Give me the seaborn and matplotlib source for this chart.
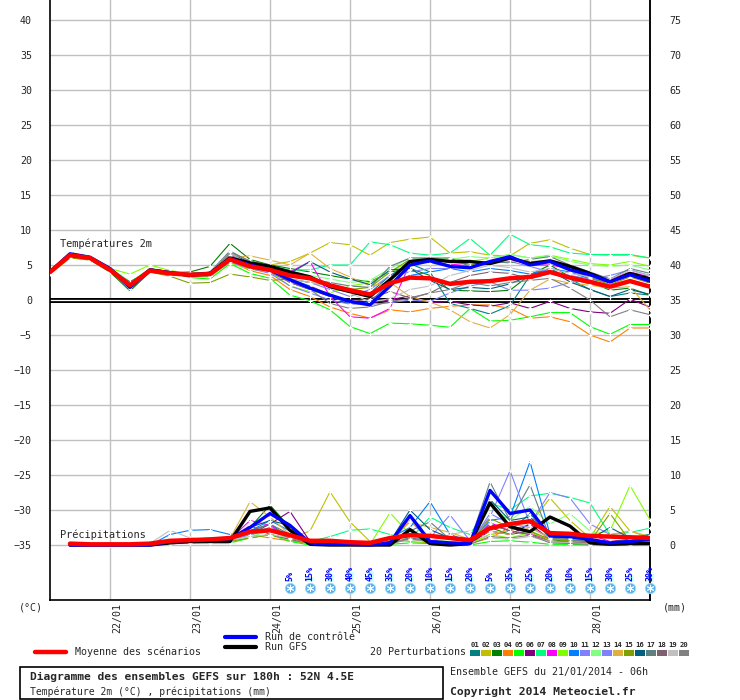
import numpy as np
import pandas as pd
import matplotlib
matplotlib.use('Agg')
import matplotlib.pyplot as plt
import matplotlib.transforms as mtransforms
from matplotlib.lines import Line2D
from matplotlib.patches import Rectangle
import seaborn as sns

# echeances (heures depuis le run du 21/01 06h)
hours = list(range(0, 181, 6))
precip_hours = hours[1:]

day_hours = [18, 42, 66, 90, 114, 138, 162]
day_labels = ['22/01', '23/01', '24/01', '25/01', '26/01', '27/01', '28/01']

# temperatures 2m (°C)
temp_mean = [4.0, 6.4, 6.0, 4.3, 2.1, 4.2, 3.8, 3.6, 3.7, 5.8, 4.8, 4.3, 3.5, 3.1, 2.1, 1.4,
             0.8, 2.4, 3.2, 3.1, 2.3, 2.6, 2.7, 3.1, 3.3, 4.0, 3.2, 2.6, 1.9, 2.7, 1.9]
temp_ctrl = [4.0, 6.6, 6.1, 4.5, 1.8, 4.3, 3.9, 3.6, 3.8, 5.9, 5.0, 4.3, 2.9, 1.7, 0.7, -0.2,
             -0.7, 2.0, 5.0, 5.6, 4.8, 4.6, 5.5, 6.2, 5.0, 5.5, 4.3, 3.6, 2.6, 3.6, 2.7]
temp_gfs = [4.0, 6.5, 6.0, 4.4, 2.0, 4.3, 3.9, 3.5, 3.8, 6.0, 5.3, 4.8, 4.0, 3.3, 1.9, 1.2,
            0.5, 2.9, 5.5, 5.8, 5.5, 5.5, 5.2, 6.0, 5.2, 5.6, 4.8, 3.8, 2.6, 3.8, 3.0]

t01 = [3.8, 6.3, 6.0, 4.5, 2.0, 4.2, 3.8, 3.5, 3.6, 6.0, 5.0, 4.6, 3.5, 3.0, 2.0, 1.5,
       1.0, 3.5, 5.2, 4.0, -0.5, -1.2, -2.0, -0.8, 3.5, 4.5, 3.0, 1.5, 0.5, 1.0, 0.7]
t02 = [4.2, 6.8, 6.2, 4.6, 2.4, 4.3, 3.9, 3.3, 3.3, 5.5, 5.5, 5.0, 5.5, 6.7, 8.2, 7.9,
       6.4, 8.2, 8.7, 9.0, 6.7, 6.9, 6.4, 6.3, 8.1, 8.6, 7.4, 6.5, 6.4, 6.4, 6.0]
t03 = [4.0, 6.2, 5.8, 4.0, 1.3, 4.0, 3.9, 4.0, 4.8, 8.1, 5.8, 5.0, 4.5, 4.0, 3.5, 3.0,
       2.6, 4.0, 4.5, 3.5, 1.4, 1.3, 1.2, 1.4, 3.6, 5.0, 3.3, 2.6, 1.4, 1.7, 0.7]
t04 = [3.9, 6.5, 6.2, 4.2, 2.2, 4.3, 3.8, 3.6, 3.5, 5.5, 4.2, 3.5, 1.5, 0.5, -1.0, -1.9,
       -2.6, -1.4, -1.7, -1.2, -0.9, -0.7, -0.7, -1.2, -2.6, -2.4, -3.1, -5.0, -6.0, -4.0, -4.0]
t05 = [4.1, 6.6, 6.1, 4.2, 2.5, 4.5, 4.0, 3.2, 3.0, 5.2, 3.8, 3.1, 0.7, -0.1, -1.4, -3.8,
       -4.8, -3.3, -3.4, -3.6, -3.9, -1.2, -3.0, -2.9, -2.4, -1.8, -1.8, -3.8, -4.9, -3.5, -3.5]
t06 = [4.0, 6.4, 6.0, 4.4, 1.8, 4.2, 3.7, 3.8, 3.9, 6.3, 5.2, 4.5, 2.5, 1.5, 0.5, -0.3,
       -0.4, 0.0, 0.6, -0.4, -0.2, -0.7, -0.9, -0.4, -1.2, -0.2, -1.2, -1.7, -1.9, 0.1, -1.0]
t07 = [4.2, 6.6, 6.3, 4.6, 2.6, 4.3, 3.7, 3.4, 3.4, 5.6, 5.0, 4.8, 4.3, 4.3, 5.0, 5.0,
       8.3, 7.9, 6.7, 6.4, 6.7, 8.8, 6.4, 9.4, 7.9, 7.6, 6.7, 6.5, 6.5, 6.5, 6.0]
t08 = [4.0, 6.5, 6.1, 4.3, 2.0, 4.1, 3.8, 3.6, 3.6, 5.5, 4.6, 4.2, 4.0, 5.5, 0.5, -2.4,
       -2.6, -1.2, 5.2, 5.6, 5.0, 5.3, 5.5, 5.8, 5.0, 5.0, 4.5, 3.8, 3.0, 4.0, 3.3]
t09 = [3.9, 6.0, 5.8, 4.5, 3.7, 5.0, 4.2, 3.8, 3.5, 5.3, 4.4, 4.0, 2.0, 1.2, 1.0, 2.0,
       2.5, 4.0, 5.5, 5.8, 6.0, 5.5, 6.0, 6.5, 6.0, 6.4, 5.8, 5.2, 5.0, 5.5, 4.8]
t10 = [4.1, 6.4, 6.0, 4.2, 2.2, 4.2, 3.8, 3.7, 3.8, 5.8, 4.9, 4.2, 3.0, 2.0, 0.5, -0.5,
       -0.3, 2.5, 3.5, 4.0, 4.5, 4.0, 4.5, 4.2, 3.7, 4.5, 4.0, 3.0, 2.5, 3.8, 2.8]
t11 = [3.9, 6.3, 5.9, 4.1, 2.0, 4.0, 3.6, 3.5, 3.5, 5.4, 4.5, 3.8, 2.0, 1.0, 0.0, -0.6,
       -0.6, -0.4, 0.0, -0.2, 1.0, 2.0, 2.6, 1.4, 1.4, 1.7, 2.5, 3.0, 3.5, 4.3, 3.5]
t12 = [4.0, 6.6, 6.2, 4.5, 2.4, 4.4, 4.0, 3.7, 3.9, 6.2, 5.2, 4.7, 4.0, 3.5, 3.0, 2.5,
       2.8, 4.5, 6.0, 6.0, 5.8, 6.2, 6.0, 6.5, 6.0, 6.3, 5.5, 5.0, 4.8, 5.0, 4.3]
t13 = [4.0, 6.4, 6.0, 4.3, 2.1, 4.1, 3.8, 3.6, 3.7, 5.9, 4.7, 4.1, 3.0, 2.5, 1.5, 0.5,
       1.5, 3.5, 4.0, 4.5, 4.5, 5.0, 5.2, 5.5, 4.8, 4.0, 3.5, 3.0, 2.8, 3.6, 3.2]
t14 = [4.1, 6.5, 6.1, 4.4, 2.3, 4.4, 4.1, 3.9, 3.9, 6.0, 6.3, 5.7, 5.0, 6.7, 4.5, 3.3,
       2.0, 2.5, 0.5, -0.3, -1.4, -3.1, -4.0, -2.1, 1.4, 3.0, 2.4, 2.1, 1.7, 1.9, -1.4]
t15 = [3.7, 6.0, 5.7, 4.0, 2.2, 4.0, 3.4, 2.4, 2.5, 3.7, 3.3, 2.8, 3.0, 2.5, 2.0, 1.5,
       1.8, 4.0, 5.8, 5.3, 4.8, 5.0, 5.4, 6.0, 5.5, 5.6, 4.3, 3.2, 2.2, 3.3, 2.4]
t16 = [4.0, 6.3, 5.9, 4.2, 1.9, 4.1, 3.7, 3.7, 3.8, 6.6, 5.4, 4.9, 3.8, 5.5, 4.0, 3.0,
       2.2, 4.3, 4.5, 2.8, 1.5, 1.8, 1.6, 2.3, 3.5, 4.2, 2.6, 1.5, 0.5, 1.5, 0.8]
t17 = [4.0, 6.4, 6.0, 4.4, 1.6, 4.2, 3.8, 3.8, 4.0, 7.0, 5.5, 5.0, 3.5, 3.0, 2.5, 2.0,
       1.8, 4.8, 6.0, 6.0, 6.0, 4.8, 5.5, 5.3, 5.8, 6.2, 5.0, 4.0, 3.0, 4.5, 3.8]
t18 = [4.1, 6.5, 6.0, 4.3, 2.6, 4.2, 3.7, 3.6, 3.6, 6.5, 5.1, 4.0, 2.5, 2.0, 0.8, -0.3,
       0.2, 1.2, 0.3, 1.0, 2.5, 3.5, 4.0, 3.8, 3.0, 3.8, 3.0, 2.3, 1.8, 2.8, 2.0]
t19 = [4.0, 6.5, 6.1, 4.4, 2.2, 4.3, 3.9, 3.7, 3.8, 6.7, 5.0, 4.4, 3.0, 2.5, 2.0, 1.0,
       -0.3, 0.2, 1.5, 2.0, 3.5, 4.2, 5.0, 4.6, 4.0, 4.5, 3.8, 3.3, 3.0, 4.2, 3.5]
t20 = [4.0, 6.4, 6.0, 4.3, 2.0, 4.2, 3.8, 3.6, 3.7, 6.8, 5.6, 4.8, 2.5, 1.5, -0.5, -1.2,
       -1.0, -0.2, 0.2, 1.0, 1.5, 2.5, 2.0, 2.5, 2.8, 3.1, 1.7, 0.0, -2.4, -1.4, -2.1]

# precipitations sur 6h (mm)
prec_mean = [0.2, 0.1, 0.1, 0.1, 0.2, 0.6, 0.7, 0.8, 1.0, 1.9, 2.1, 1.4, 0.6, 0.6, 0.4,
             0.3, 1.0, 1.4, 1.3, 1.0, 0.7, 2.4, 3.0, 3.4, 1.7, 1.6, 1.3, 1.2, 1.1, 1.0]
prec_ctrl = [0.0, 0.0, 0.0, 0.0, 0.0, 0.5, 0.7, 0.8, 0.9, 2.5, 4.5, 2.8, 0.3, 0.1, 0.1,
             0.0, 0.3, 4.2, 0.5, 0.3, 0.2, 7.8, 4.5, 5.0, 1.3, 1.2, 0.8, 0.3, 0.5, 0.8]
prec_gfs = [0.0, 0.0, 0.0, 0.0, 0.0, 0.3, 0.5, 0.5, 0.5, 4.8, 5.3, 2.1, 0.1, 0.0, 0.0,
            0.0, 0.0, 2.2, 0.2, 0.0, 0.2, 6.0, 2.6, 1.9, 4.0, 2.7, 0.3, 0.1, 0.2, 0.2]

p01 = [0, 0, 0, 0, 0, 0.3, 0.5, 0.6, 0.8, 1.5, 3.0, 1.0, 0.2, 0.1, 0.1, 0.0, 0.5, 2.0,
       0.3, 0.2, 0.1, 3.0, 2.0, 4.5, 0.8, 1.0, 0.5, 0.3, 0.5, 0.9]
p02 = [0, 0, 0, 0, 0, 0.2, 0.3, 0.5, 0.6, 1.0, 1.5, 1.0, 2.0, 7.6, 3.3, 0.5, 0.8, 0.5,
       0.3, 0.2, 0.3, 1.5, 2.0, 3.0, 6.7, 3.5, 1.0, 5.5, 2.0, 1.0]
p03 = [0, 0, 0, 0, 0, 0.2, 0.4, 0.5, 0.9, 2.5, 5.7, 2.5, 0.3, 0.1, 0.0, 0.0, 0.5, 1.5,
       0.4, 0.2, 0.0, 2.5, 1.5, 2.0, 0.5, 0.8, 0.4, 0.3, 0.2, 0.3]
p04 = [0, 0, 0, 0, 0, 0.4, 0.6, 0.6, 1.2, 1.5, 1.0, 0.6, 0.2, 0.0, 0.0, 0.0, 0.3, 3.5,
       0.5, 0.2, 0.2, 1.0, 2.5, 1.8, 0.5, 0.5, 0.3, 0.1, 0.1, 0.2]
p05 = [0, 0, 0, 0, 0, 0.2, 0.3, 0.3, 0.3, 1.0, 1.5, 0.5, 0.0, 0.0, 0.0, 0.0, 0.1, 0.3,
       0.2, 0.1, 0.0, 0.5, 0.6, 0.4, 0.1, 0.1, 0.0, 0.0, 0.0, 0.1]
p06 = [0, 0, 0, 0, 0, 0.3, 0.6, 0.8, 0.8, 2.0, 3.0, 4.8, 0.5, 0.1, 0.0, 0.0, 0.4, 1.5,
       0.8, 0.3, 0.3, 2.0, 1.5, 3.0, 0.8, 1.0, 0.6, 0.5, 0.8, 0.6]
p07 = [0, 0, 0, 0, 0, 0.2, 0.3, 0.5, 0.8, 1.5, 2.5, 1.5, 0.5, 1.2, 2.1, 2.3, 1.5, 0.8,
       4.0, 2.5, 1.5, 6.0, 5.0, 7.0, 7.4, 6.8, 6.0, 1.5, 1.8, 2.4]
p08 = [0, 0, 0, 0, 0, 0.3, 0.5, 0.6, 0.8, 3.5, 2.8, 1.0, 0.3, 0.1, 0.0, 0.0, 0.2, 1.8,
       0.4, 0.3, 0.3, 3.2, 2.0, 1.5, 1.0, 1.2, 1.5, 0.5, 0.3, 0.5]
p09 = [0, 0, 0, 0, 0, 0.2, 0.4, 0.5, 0.8, 1.5, 2.0, 1.2, 0.8, 0.5, 0.3, 0.1, 4.6, 1.5,
       0.5, 0.3, 0.2, 1.5, 1.0, 1.8, 0.8, 0.8, 1.5, 2.0, 8.5, 3.6]
p10 = [0, 0, 0, 0, 0, 1.5, 2.1, 2.2, 1.5, 2.0, 3.5, 2.0, 0.3, 0.1, 0.1, 0.0, 1.0, 2.5,
       6.2, 1.5, 0.5, 3.5, 4.0, 11.9, 1.5, 0.8, 0.5, 0.3, 0.6, 1.0]
p11 = [0, 0, 0, 0, 0, 0.3, 0.4, 0.6, 0.8, 1.5, 2.0, 1.5, 0.4, 0.2, 0.1, 0.0, 0.5, 2.0,
       1.0, 4.3, 0.6, 4.0, 10.6, 3.0, 7.5, 6.7, 3.0, 1.5, 0.8, 0.9]
p12 = [0, 0, 0, 0, 0, 0.3, 0.5, 0.4, 0.6, 1.2, 2.0, 1.0, 0.3, 0.2, 0.1, 0.0, 0.6, 1.2,
       0.8, 0.5, 0.3, 5.5, 3.5, 5.5, 3.0, 4.5, 2.0, 1.0, 1.2, 1.5]
p13 = [0, 0, 0, 0, 0, 0.2, 0.3, 0.4, 0.6, 1.5, 2.5, 1.2, 0.2, 0.1, 0.1, 0.0, 0.3, 1.0,
       0.6, 0.3, 0.2, 4.5, 3.0, 2.5, 1.0, 0.8, 0.6, 0.4, 0.6, 0.8]
p14 = [0, 0, 0, 0, 0, 0.5, 0.6, 0.7, 0.9, 6.2, 4.0, 1.5, 0.3, 0.1, 0.0, 0.0, 0.5, 3.3,
       2.5, 1.8, 0.8, 2.0, 1.5, 2.5, 1.0, 0.8, 1.0, 1.5, 2.0, 1.2]
p15 = [0, 0, 0, 0, 0, 0.2, 0.3, 0.4, 0.5, 1.0, 1.5, 0.8, 0.2, 0.0, 0.0, 0.0, 0.2, 0.8,
       0.5, 0.3, 0.2, 3.8, 2.5, 2.0, 0.8, 0.6, 0.5, 4.5, 0.6, 0.8]
p16 = [0, 0, 0, 0, 0, 0.4, 0.6, 0.6, 0.9, 2.5, 3.5, 2.8, 0.3, 0.1, 0.0, 0.0, 0.5, 5.0,
       2.2, 1.0, 0.3, 6.5, 3.5, 4.0, 1.2, 1.0, 0.8, 2.5, 1.0, 1.5]
p17 = [0, 0, 0, 0, 0, 0.3, 0.5, 0.6, 0.8, 2.0, 3.0, 1.5, 0.3, 0.1, 0.0, 0.0, 0.4, 2.0,
       3.3, 0.8, 0.5, 9.0, 3.5, 8.6, 1.0, 0.8, 0.5, 0.4, 0.8, 1.5]
p18 = [0, 0, 0, 0, 0, 0.5, 0.8, 0.7, 0.8, 2.8, 1.5, 0.8, 0.3, 0.1, 0.0, 0.0, 0.2, 1.0,
       0.6, 0.3, 0.2, 3.0, 2.0, 1.5, 0.5, 0.4, 0.3, 0.2, 0.3, 0.4]
p19 = [0, 0, 0, 0, 0.2, 2.1, 1.0, 0.8, 0.7, 1.2, 1.5, 1.0, 0.2, 0.1, 0.0, 0.0, 0.3, 0.8,
       0.5, 1.5, 2.0, 1.0, 0.8, 1.2, 0.5, 0.3, 0.2, 0.1, 0.1, 0.2]
p20 = [0, 0, 0, 0, 0, 0.3, 0.4, 0.6, 0.7, 1.8, 2.0, 1.0, 0.2, 0.0, 0.0, 0.0, 0.2, 0.9,
       0.5, 0.3, 0.1, 1.2, 1.0, 1.4, 0.3, 0.2, 0.1, 0.1, 0.2, 0.3]

member_ids = ['01', '02', '03', '04', '05', '06', '07', '08', '09', '10',
              '11', '12', '13', '14', '15', '16', '17', '18', '19', '20']
member_colors = ['#008080', '#c0c000', '#008000', '#ff8000', '#00ff00', '#800080', '#00ff80',
                 '#ff00ff', '#80ff00', '#0080ff', '#8080ff', '#80ff80', '#8080ff', '#e0b040',
                 '#80a000', '#006080', '#608080', '#806070', '#c0c0c0', '#808080']

# probabilite de neige (%)
snow_hours = list(range(72, 181, 6))
snow_pct = [5, 15, 30, 40, 45, 35, 20, 10, 15, 20, 5, 35, 25, 20, 10, 15, 30, 25, 30]

PREC_BASE = -35  # 0 mm sur l'echelle des temperatures

temp_members = [t01, t02, t03, t04, t05, t06, t07, t08, t09, t10,
                t11, t12, t13, t14, t15, t16, t17, t18, t19, t20]
prec_members = [p01, p02, p03, p04, p05, p06, p07, p08, p09, p10,
                p11, p12, p13, p14, p15, p16, p17, p18, p19, p20]

rows_t = []
rows_p = []
for mid, tvals, pvals in zip(member_ids, temp_members, prec_members):
    for h, v in zip(hours, tvals):
        rows_t.append((mid, h, v))
    for h, v in zip(precip_hours, pvals):
        rows_p.append((mid, h, PREC_BASE + v))
df_t = pd.DataFrame(rows_t, columns=['member', 'hour', 'value'])
df_p = pd.DataFrame(rows_p, columns=['member', 'hour', 'value'])
palette = dict(zip(member_ids, member_colors))

sns.set_style('white')
plt.rcParams['font.family'] = ['DejaVu Sans Mono', 'DejaVu Sans']
plt.rcParams['font.size'] = 7.2

W, H = 740, 700
fig = plt.figure(figsize=(W / 100, H / 100), dpi=100)
ax = fig.add_axes([50 / W, 100 / H, 600 / W, 600 / H])


def fx(x):
    return x / W


def fy(y):
    return 1 - y / H


# perturbations
for df in (df_t, df_p):
    sns.lineplot(data=df, x='hour', y='value', hue='member', hue_order=member_ids,
                 palette=palette, estimator=None, sort=False, legend=False, ax=ax,
                 lw=0.8, marker='+', markersize=3.5, markeredgewidth=0.8, zorder=3)

# runs principaux
for tvals, pvals, col, lw in [(temp_gfs, prec_gfs, 'black', 2.4),
                              (temp_ctrl, prec_ctrl, '#0000ff', 2.4),
                              (temp_mean, prec_mean, '#ff0000', 3.2)]:
    sns.lineplot(x=hours, y=tvals, color=col, lw=lw, ax=ax, zorder=4)
    sns.lineplot(x=precip_hours, y=[PREC_BASE + v for v in pvals], color=col, lw=lw,
                 ax=ax, zorder=4)

# ligne 0°C double
ax.axhline(0, color='black', lw=3.6, zorder=2)
ax.axhline(0, color='white', lw=0.9, zorder=2)

# neige
bars = ax.bar(snow_hours, [(2 + 0.22 * v) / 7 for v in snow_pct], bottom=-40.25, width=2.4,
              color='#c0ffff', zorder=2)
for b in bars:
    b.set_clip_on(False)
for h, v in zip(snow_hours, snow_pct):
    ax.text(h, -40.1, f'{v}%', rotation=90, ha='center', va='bottom', fontsize=6,
            color='#0000ff', fontweight='bold', zorder=5, clip_on=False)
ax.scatter(snow_hours, [-41.2] * len(snow_hours), s=55, color='#58b0e8', edgecolor='#9fd8f8',
           lw=0.6, zorder=5, clip_on=False)
ax.scatter(snow_hours, [-41.2] * len(snow_hours), s=22, marker=(6, 2, 0), color='white',
           lw=0.7, zorder=6, clip_on=False)

ax.set_xlim(0, 180)
ax.set_ylim(-300 / 7, 300 / 7)
ax.set_xticks(day_hours, day_labels, rotation=90)
ax.set_yticks(np.arange(-35, 45, 5))
ax.set_xlabel('')
ax.set_ylabel('')
ax.grid(True, color='#c0c0c0', lw=1)
ax.set_axisbelow(True)
ax.tick_params(axis='y', length=0, pad=13, labelsize=7.2)
ax.tick_params(axis='x', length=0, pad=2, labelsize=7.2)
offset = mtransforms.ScaledTranslation(7 / 100, 0, fig.dpi_scale_trans)
for lbl in ax.get_xticklabels():
    lbl.set_transform(lbl.get_transform() + offset)
for side in ['left', 'right', 'bottom']:
    ax.spines[side].set_color('black')
    ax.spines[side].set_linewidth(1.2)
ax.spines['top'].set_visible(False)

sec = ax.secondary_yaxis('right', functions=(lambda v: v + 35, lambda v: v - 35))
sec.set_yticks(np.arange(0, 80, 5))
sec.tick_params(length=0, pad=14, labelsize=7.2)
sec.spines['right'].set_linewidth(1.2)

ax.text(3, 8.1, 'Températures 2m', fontsize=7.4, va='center', ha='left', zorder=6)
ax.text(3, -33.6, 'Précipitations', fontsize=7.4, va='center', ha='left', zorder=6)

fig.text(fx(31), fy(607), '(°C)', ha='center', va='center', fontsize=7.2)
fig.text(fx(675), fy(607), '(mm)', ha='center', va='center', fontsize=7.2)

# legende
fig.add_artist(Line2D([fx(35), fx(66)], [fy(652), fy(652)], color='#ff0000', lw=3.2))
fig.text(fx(75), fy(652), 'Moyenne des scénarios', va='center', fontsize=7.2)
fig.add_artist(Line2D([fx(225), fx(256)], [fy(637), fy(637)], color='#0000ff', lw=3.0))
fig.add_artist(Line2D([fx(225), fx(256)], [fy(647), fy(647)], color='black', lw=3.0))
fig.text(fx(265), fy(637), 'Run de contrôle', va='center', fontsize=7.2)
fig.text(fx(265), fy(647), 'Run GFS', va='center', fontsize=7.2)
fig.text(fx(370), fy(652), '20 Perturbations', va='center', fontsize=7.2)
for k, (mid, col) in enumerate(zip(member_ids, member_colors)):
    x0 = 470 + 11 * k
    fig.add_artist(Rectangle((fx(x0), fy(656)), 10 / W, 6 / H, color=col, lw=0))
    fig.text(fx(x0 + 5), fy(645), mid, ha='center', va='center', fontsize=5.2,
             fontweight='bold')

# cartouche
fig.add_artist(Rectangle((fx(20), fy(699)), 423 / W, 32 / H, fill=False,
                         edgecolor='black', lw=1.2))
fig.text(fx(30), fy(677), 'Diagramme des ensembles GEFS sur 180h : 52N 4.5E',
         va='center', fontsize=8.1, fontweight='bold')
fig.text(fx(30), fy(692), 'Température 2m (°C) , précipitations (mm)',
         va='center', fontsize=7.0)
fig.text(fx(450), fy(672), 'Ensemble GEFS du 21/01/2014 - 06h', va='center', fontsize=7.2)
fig.text(fx(450), fy(692), 'Copyright 2014 Meteociel.fr', va='center', fontsize=8.2,
         fontweight='bold')

fig.savefig('out.png', dpi=100)
